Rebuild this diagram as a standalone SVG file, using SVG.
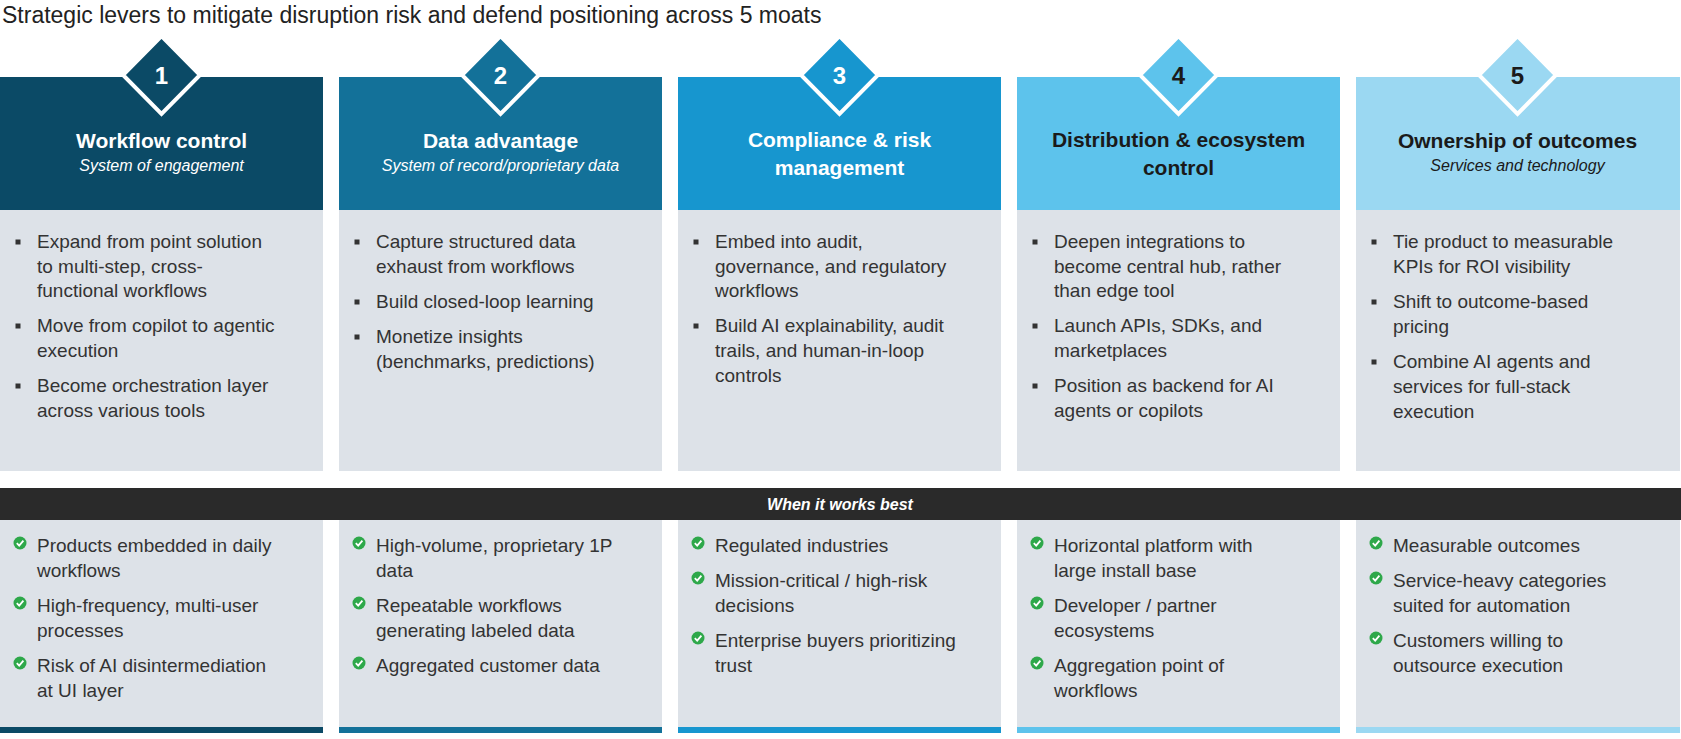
<svg xmlns="http://www.w3.org/2000/svg" width="1681" height="739" viewBox="0 0 1681 739">
<style>
text{font-family:"Liberation Sans",Arial,sans-serif}
.t{font-size:23px;fill:#222}
.h{font-size:21px;font-weight:bold;text-anchor:middle}
.s{font-size:16px;font-style:italic;text-anchor:middle}
.b{font-size:19px;fill:#333}
.n{font-size:24px;font-weight:bold;text-anchor:middle}
.body{fill:#dde2e8}
.w{fill:#fff}.d{fill:#1a1a1a}
</style>
<defs>
<g id="chk"><circle r="6.5" fill="#2ea84a"/><path d="M-3.2,0.2 L-0.8,2.6 L3.4,-2.4" fill="none" stroke="#fff" stroke-width="1.8"/></g>
<rect id="sq" x="-2.5" y="-2.5" width="5" height="5" fill="#333"/>
</defs>
<text class="t" x="2" y="23">Strategic levers to mitigate disruption risk and defend positioning across 5 moats</text>
<rect x="0" y="488" width="1681" height="32" fill="#2a2a2a"/>
<text x="840" y="510" font-size="16" font-weight="bold" font-style="italic" fill="#fff" text-anchor="middle">When it works best</text>

<g id="col1" transform="translate(0,0)">
<rect class="body" x="0" y="210" width="323" height="261"/><rect class="body" x="0" y="520" width="323" height="207"/>
<rect x="0" y="727" width="323" height="6" fill="#0b4a66"/>
<rect x="0" y="77" width="323" height="133" fill="#0b4a66"/>
<path d="M161.5,36 L200,75 L161.5,114 L123,75Z" fill="#0b4a66" stroke="#fff" stroke-width="4"/>
<text class="n w" x="161.5" y="84">1</text>
<text class="h w" x="161.5" y="148">Workflow control</text>
<text class="s w" x="161.5" y="171">System of engagement</text>
<g class="b"><use href="#sq" x="18" y="242"/><text x="37" y="248">Expand from point solution</text><text x="37" y="273">to multi-step, cross-</text><text x="37" y="297">functional workflows</text>
<use href="#sq" x="18" y="326"/><text x="37" y="332">Move from copilot to agentic</text><text x="37" y="357">execution</text>
<use href="#sq" x="18" y="386"/><text x="37" y="392">Become orchestration layer</text><text x="37" y="417">across various tools</text>
<use href="#chk" x="20" y="543"/><text x="37" y="552">Products embedded in daily</text><text x="37" y="577">workflows</text>
<use href="#chk" x="20" y="603"/><text x="37" y="612">High-frequency, multi-user</text><text x="37" y="637">processes</text>
<use href="#chk" x="20" y="663"/><text x="37" y="672">Risk of AI disintermediation</text><text x="37" y="697">at UI layer</text></g>
</g>

<g id="col2" transform="translate(339,0)">
<rect class="body" x="0" y="210" width="323" height="261"/><rect class="body" x="0" y="520" width="323" height="207"/>
<rect x="0" y="727" width="323" height="6" fill="#137199"/>
<rect x="0" y="77" width="323" height="133" fill="#137199"/>
<path d="M161.5,36 L200,75 L161.5,114 L123,75Z" fill="#137199" stroke="#fff" stroke-width="4"/>
<text class="n w" x="161.5" y="84">2</text>
<text class="h w" x="161.5" y="148">Data advantage</text>
<text class="s w" x="161.5" y="171">System of record/proprietary data</text>
<g class="b"><use href="#sq" x="18" y="242"/><text x="37" y="248">Capture structured data</text><text x="37" y="273">exhaust from workflows</text>
<use href="#sq" x="18" y="302"/><text x="37" y="308">Build closed-loop learning</text>
<use href="#sq" x="18" y="337"/><text x="37" y="343">Monetize insights</text><text x="37" y="368">(benchmarks, predictions)</text>
<use href="#chk" x="20" y="543"/><text x="37" y="552">High-volume, proprietary 1P</text><text x="37" y="577">data</text>
<use href="#chk" x="20" y="603"/><text x="37" y="612">Repeatable workflows</text><text x="37" y="637">generating labeled data</text>
<use href="#chk" x="20" y="663"/><text x="37" y="672">Aggregated customer data</text></g>
</g>

<g id="col3" transform="translate(678,0)">
<rect class="body" x="0" y="210" width="323" height="261"/><rect class="body" x="0" y="520" width="323" height="207"/>
<rect x="0" y="727" width="323" height="6" fill="#1796cf"/>
<rect x="0" y="77" width="323" height="133" fill="#1796cf"/>
<path d="M161.5,36 L200,75 L161.5,114 L123,75Z" fill="#1796cf" stroke="#fff" stroke-width="4"/>
<text class="n w" x="161.5" y="84">3</text>
<text class="h w" x="161.5" y="147">Compliance &amp; risk</text>
<text class="h w" x="161.5" y="175">management</text>
<g class="b"><use href="#sq" x="18" y="242"/><text x="37" y="248">Embed into audit,</text><text x="37" y="273">governance, and regulatory</text><text x="37" y="297">workflows</text>
<use href="#sq" x="18" y="326"/><text x="37" y="332">Build AI explainability, audit</text><text x="37" y="357">trails, and human-in-loop</text><text x="37" y="382">controls</text>
<use href="#chk" x="20" y="543"/><text x="37" y="552">Regulated industries</text>
<use href="#chk" x="20" y="578"/><text x="37" y="587">Mission-critical / high-risk</text><text x="37" y="612">decisions</text>
<use href="#chk" x="20" y="638"/><text x="37" y="647">Enterprise buyers prioritizing</text><text x="37" y="672">trust</text></g>
</g>

<g id="col4" transform="translate(1017,0)">
<rect class="body" x="0" y="210" width="323" height="261"/><rect class="body" x="0" y="520" width="323" height="207"/>
<rect x="0" y="727" width="323" height="6" fill="#5dc3ec"/>
<rect x="0" y="77" width="323" height="133" fill="#5dc3ec"/>
<path d="M161.5,36 L200,75 L161.5,114 L123,75Z" fill="#5dc3ec" stroke="#fff" stroke-width="4"/>
<text class="n d" x="161.5" y="84">4</text>
<text class="h d" x="161.5" y="147">Distribution &amp; ecosystem</text>
<text class="h d" x="161.5" y="175">control</text>
<g class="b"><use href="#sq" x="18" y="242"/><text x="37" y="248">Deepen integrations to</text><text x="37" y="273">become central hub, rather</text><text x="37" y="297">than edge tool</text>
<use href="#sq" x="18" y="326"/><text x="37" y="332">Launch APIs, SDKs, and</text><text x="37" y="357">marketplaces</text>
<use href="#sq" x="18" y="386"/><text x="37" y="392">Position as backend for AI</text><text x="37" y="417">agents or copilots</text>
<use href="#chk" x="20" y="543"/><text x="37" y="552">Horizontal platform with</text><text x="37" y="577">large install base</text>
<use href="#chk" x="20" y="603"/><text x="37" y="612">Developer / partner</text><text x="37" y="637">ecosystems</text>
<use href="#chk" x="20" y="663"/><text x="37" y="672">Aggregation point of</text><text x="37" y="697">workflows</text></g>
</g>

<g id="col5" transform="translate(1356,0)">
<rect class="body" x="0" y="210" width="324" height="261"/><rect class="body" x="0" y="520" width="324" height="207"/>
<rect x="0" y="727" width="324" height="6" fill="#9bd8f2"/>
<rect x="0" y="77" width="324" height="133" fill="#9bd8f2"/>
<path d="M161.5,36 L200,75 L161.5,114 L123,75Z" fill="#9bd8f2" stroke="#fff" stroke-width="4"/>
<text class="n d" x="161.5" y="84">5</text>
<text class="h d" x="161.5" y="148">Ownership of outcomes</text>
<text class="s d" x="161.5" y="171">Services and technology</text>
<g class="b"><use href="#sq" x="18" y="242"/><text x="37" y="248">Tie product to measurable</text><text x="37" y="273">KPIs for ROI visibility</text>
<use href="#sq" x="18" y="302"/><text x="37" y="308">Shift to outcome-based</text><text x="37" y="333">pricing</text>
<use href="#sq" x="18" y="362"/><text x="37" y="368">Combine AI agents and</text><text x="37" y="393">services for full-stack</text><text x="37" y="418">execution</text>
<use href="#chk" x="20" y="543"/><text x="37" y="552">Measurable outcomes</text>
<use href="#chk" x="20" y="578"/><text x="37" y="587">Service-heavy categories</text><text x="37" y="612">suited for automation</text>
<use href="#chk" x="20" y="638"/><text x="37" y="647">Customers willing to</text><text x="37" y="672">outsource execution</text></g>
</g>
</svg>
